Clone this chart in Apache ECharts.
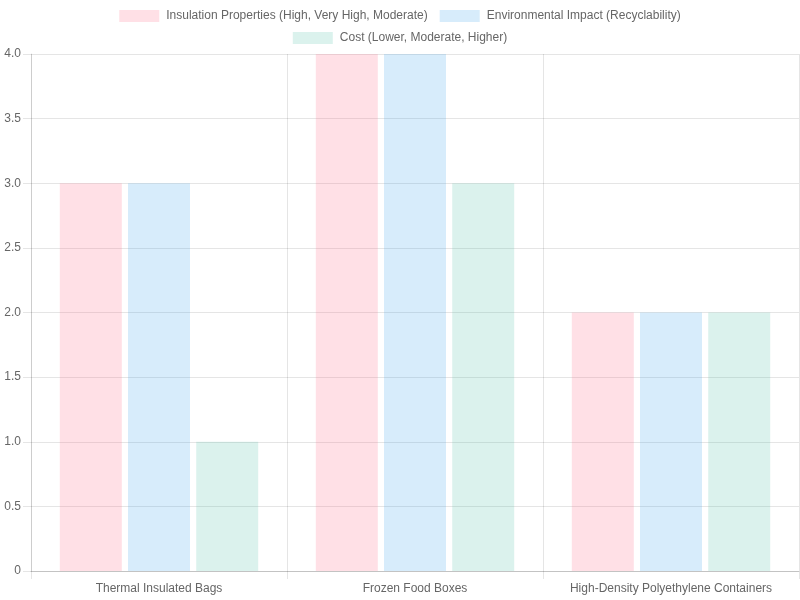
<!DOCTYPE html>
<html>
<head>
<meta charset="utf-8">
<script src="https://cdn.jsdelivr.net/npm/echarts@6/dist/echarts.min.js"></script>
<style>
  html, body { margin: 0; padding: 0; background: #fff; }
  #main { width: 800px; height: 600px; }
</style>
</head>
<body>
<div id="main"></div>
<script>
// data
var categories = ['Thermal Insulated Bags', 'Frozen Food Boxes', 'High-Density Polyethylene Containers'];
var seriesNames = [
  'Insulation Properties (High, Very High, Moderate)',
  'Environmental Impact (Recyclability)',
  'Cost (Lower, Moderate, Higher)'
];
var insulation = [3, 4, 2];
var environmental = [3, 4, 2];
var cost = [1, 3, 2];

var fills = ['rgba(255,99,132,0.2)', 'rgba(54,162,235,0.2)', 'rgba(75,192,165,0.2)'];
var font = '"Liberation Sans", Arial, Helvetica, sans-serif';

var chart = echarts.init(document.getElementById('main'), null, {renderer: 'canvas'});

function makeSeries(i, values) {
  return {
    name: seriesNames[i],
    type: 'bar',
    data: values,
    barWidth: 62,
    barGap: '10%',
    itemStyle: { color: fills[i] },
    emphasis: { disabled: true }
  };
}

var legendBase = {
  left: 'center',
  itemWidth: 40,
  itemHeight: 12,
  itemGap: 12,
  icon: 'rect',
  textStyle: { color: '#666', fontSize: 12, fontFamily: font, padding: [0, 0, 0, 2] }
};

var option = {
  animation: false,
  backgroundColor: '#ffffff',
  textStyle: { fontFamily: font },
  legend: [
    Object.assign({}, legendBase, { top: 5, data: [seriesNames[0], seriesNames[1]] }),
    Object.assign({}, legendBase, { top: 27, data: [seriesNames[2]] })
  ],
  grid: { left: 31, right: 1, top: 54, bottom: 29, containLabel: false },
  xAxis: {
    type: 'category',
    data: categories,
    boundaryGap: true,
    axisLine: { show: true, lineStyle: { color: 'rgba(0,0,0,0.15)' } },
    axisTick: { show: true, alignWithLabel: false, length: 8, lineStyle: { color: 'rgba(0,0,0,0.1)' } },
    axisLabel: { color: '#666', fontSize: 12, margin: 12, interval: 0, fontFamily: font },
    splitLine: { show: true, lineStyle: { color: 'rgba(0,0,0,0.1)' } }
  },
  yAxis: {
    type: 'value',
    min: 0,
    max: 4,
    interval: 0.5,
    axisLine: { show: true, lineStyle: { color: 'rgba(0,0,0,0.1)' } },
    axisTick: { show: true, length: 8, lineStyle: { color: 'rgba(0,0,0,0.1)' } },
    axisLabel: {
      color: '#666', fontSize: 12, margin: 10, fontFamily: font,
      formatter: function (v) { return v === 0 ? '0' : v.toFixed(1); }
    },
    splitLine: { show: true, lineStyle: { color: 'rgba(0,0,0,0.1)' } }
  },
  series: [
    makeSeries(0, insulation),
    makeSeries(1, environmental),
    makeSeries(2, cost)
  ]
};

chart.setOption(option);
</script>
</body>
</html>
